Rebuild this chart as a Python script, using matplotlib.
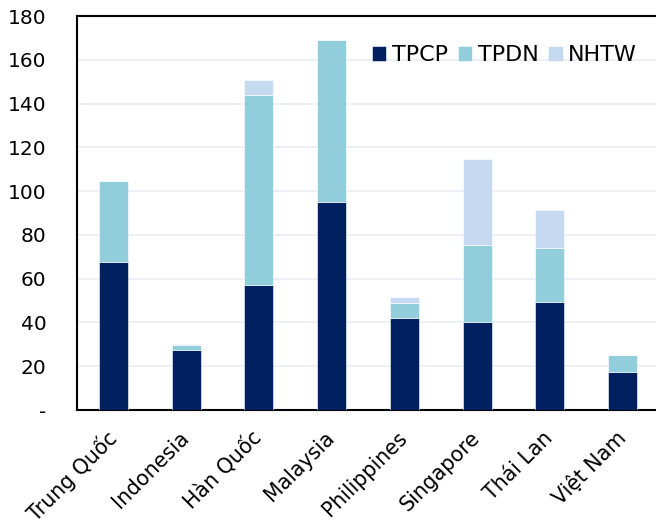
import matplotlib
matplotlib.use("Agg")
import matplotlib.pyplot as plt
import numpy as np

categories = ["Trung Quốc", "Indonesia", "Hàn Quốc", "Malaysia", "Philippines",
              "Singapore", "Thái Lan", "Việt Nam"]
tpcp = [67.5, 27.3, 57.2, 95.1, 42.1, 40.1, 49.2, 17.5]
tpdn = [36.9, 2.3, 86.5, 73.8, 7.0, 35.3, 24.9, 7.5]
nhtw = [0.3, 0.6, 6.9, 0.0, 2.7, 39.2, 17.2, 0.0]
series_names = ["TPCP", "TPDN", "NHTW"]
colors = ["#002060", "#92CDDC", "#C5D9F1"]
yticks = [0, 20, 40, 60, 80, 100, 120, 140, 160, 180]
ytick_labels = ["-", "20", "40", "60", "80", "100", "120", "140", "160", "180"]

plt.rcParams['font.family'] = ['DejaVu Sans']
fig = plt.figure(figsize=(6.56, 5.27), dpi=100)
ax = fig.add_axes([0.1174, 0.222, 0.887, 0.7476])

x = np.arange(len(categories))
bottom = np.zeros(len(categories))
for name, vals, c in zip(series_names, [tpcp, tpdn, nhtw], colors):
    ax.bar(x, vals, width=0.4, bottom=bottom, color=c, label=name,
           edgecolor="white", linewidth=0.4, zorder=3)
    bottom = bottom + np.array(vals)

ax.set_xlim(-0.5, len(categories) - 0.5)
ax.set_ylim(0, 180)
ax.set_yticks(yticks)
ax.set_yticklabels(ytick_labels, fontsize=14.5)
ax.grid(axis="y", color="#E8EEF6", linewidth=1.2, zorder=0)
ax.set_xticks(x)
ax.set_xticklabels(categories, fontsize=14.8, rotation=45, ha="right",
                   va="center", rotation_mode="anchor")
ax.tick_params(axis="both", length=0)
ax.tick_params(axis="y", pad=22)
ax.tick_params(axis="x", pad=18)
for s in ["left", "top", "bottom", "right"]:
    ax.spines[s].set_linewidth(1.5)
    ax.spines[s].set_color("black")

ax.legend(loc="upper right", bbox_to_anchor=(0.978, 0.948), frameon=False,
          fontsize=16, ncol=3, handlelength=0.65, handleheight=0.65,
          handletextpad=0.25, columnspacing=0.45, borderaxespad=0)

fig.savefig("out.png", dpi=100)
